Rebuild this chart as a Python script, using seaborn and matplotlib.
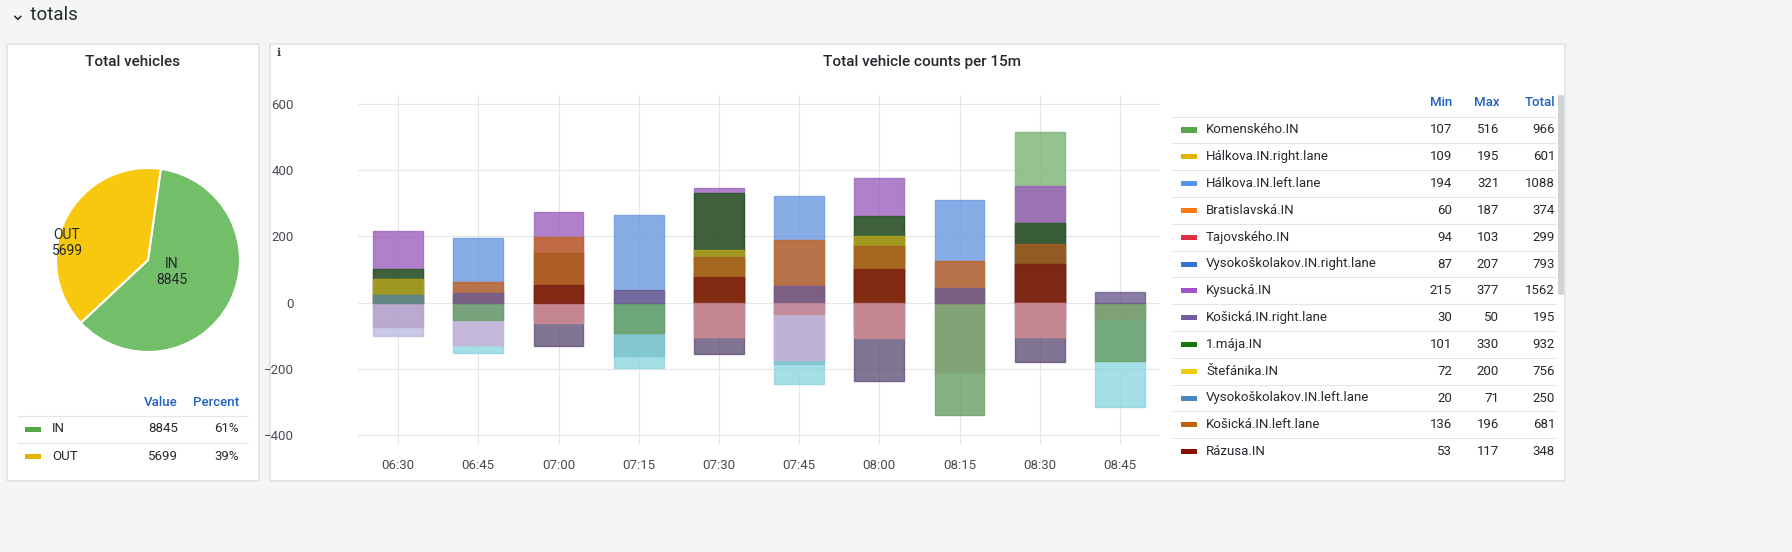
import numpy as np
import pandas as pd
import matplotlib
matplotlib.use("Agg")
import matplotlib.pyplot as plt
from matplotlib.patches import FancyBboxPatch, Rectangle
import seaborn as sns

sns.set_theme(style="white")
plt.rcParams['font.family'] = ['Roboto', 'DejaVu Sans']

nan = np.nan
times = ["06:30", "06:45", "07:00", "07:15", "07:30", "07:45", "08:00", "08:15", "08:30", "08:45"]

# IN series (positive)
komenskeho_in = [nan, nan, nan, nan, nan, nan, nan, nan, 514, nan]
halkova_left = [nan, 196, nan, 264, nan, 321, nan, 311, nan, nan]
bratislavska = [nan, 61, 198, nan, nan, 188, nan, 126, nan, nan]
kysucka = [217, nan, 274, nan, 345, nan, 376, nan, 352, nan]
kosicka_right = [nan, 30, nan, 39, nan, 51, nan, 43, nan, 33]
maja = [101, nan, nan, nan, 332, nan, 263, nan, 241, nan]
stefanika = [72, nan, nan, nan, 159, nan, 200, nan, nan, nan]
vysoko_left = [22, nan, nan, nan, nan, nan, nan, nan, nan, nan]
kosicka_left = [nan, nan, 151, nan, 137, nan, 171, nan, 177, nan]
razusa = [nan, nan, 53, nan, 76, nan, 103, nan, 117, nan]
# OUT series (negative)
out_lav1 = [-73, nan, nan, nan, nan, nan, nan, nan, nan, nan]
out_lav2 = [-101, nan, nan, nan, nan, nan, nan, nan, nan, nan]
out_green1 = [nan, -51, nan, -93, nan, nan, nan, -340, nan, -177]
out_green2 = [nan, nan, nan, nan, nan, nan, nan, -210, nan, -50]
out_orchid = [nan, -128, nan, nan, nan, -174, nan, nan, nan, nan]
out_cyan1 = [nan, -151, nan, -198, nan, -247, nan, nan, nan, -316]
out_cyan2 = [nan, nan, nan, -162, nan, -185, nan, nan, nan, nan]
out_pink1 = [nan, nan, -62, nan, -104, nan, -108, nan, -105, nan]
out_pink2 = [nan, nan, -55, nan, -55, -33, -70, nan, -55, nan]
out_dpurple = [nan, nan, -130, nan, -156, nan, -238, nan, -180, nan]

series = {
    "Komenského.IN": (komenskeho_in, "#73BF69"),
    "Hálkova.IN.left.lane": (halkova_left, "#5794F2"),
    "Bratislavská.IN": (bratislavska, "#E0600A"),
    "Kysucká.IN": (kysucka, "#A352CC"),
    "Košická.IN.right.lane": (kosicka_right, "#6A5498"),
    "1.mája.IN": (maja, "#19620E"),
    "Štefánika.IN": (stefanika, "#D4B800"),
    "Vysokoškolakov.IN.left.lane": (vysoko_left, "#4A86A8"),
    "Košická.IN.left.lane": (kosicka_left, "#BF5A08"),
    "Rázusa.IN": (razusa, "#8A0E00"),
    "Lavender.OUT": (out_lav1, "#B79CD0"),
    "Lavender2.OUT": (out_lav2, "#B8B4E8"),
    "Komenského.OUT": (out_green1, "#5FA85A"),
    "Komenského2.OUT": (out_green2, "#7EA86A"),
    "Kysucká.OUT": (out_orchid, "#D0A8E0"),
    "Cyan.OUT": (out_cyan1, "#80E0F0"),
    "Cyan2.OUT": (out_cyan2, "#70CCD8"),
    "Pink.OUT": (out_pink1, "#E08088"),
    "Pink2.OUT": (out_pink2, "#D07C88"),
    "Košická.OUT": (out_dpurple, "#5E4B82"),
}

rows = []
for name, (vals, col) in series.items():
    for t, v in zip(times, vals):
        if not np.isnan(v):
            rows.append((name, t, v))
df = pd.DataFrame(rows, columns=["series", "time", "value"])
df["rank"] = df.groupby("time")["value"].transform(lambda s: s.abs().rank(ascending=False, method="first"))
palette = {k: c for k, (v, c) in series.items()}

W, H = 1792, 552
fig = plt.figure(figsize=(W / 100, H / 100), dpi=100)
fig.patch.set_facecolor("#F4F5F5")

def fx(x): return x / W
def fy(y): return 1 - y / H

for (x0, y0, x1, y1) in [(7, 44, 259, 481), (270, 44, 1565, 481)]:
    fig.patches.append(FancyBboxPatch((fx(x0), fy(y1)), fx(x1 - x0), (y1 - y0) / H,
                                      boxstyle="round,pad=0,rounding_size=0.002",
                                      transform=fig.transFigure, facecolor="white",
                                      edgecolor="#DCDEE0", linewidth=1, zorder=-5))

fig.text(fx(10), fy(15), "⌄ totals", fontsize=13.5, color="#24292E", va="center")
fig.text(fx(133), fy(62), "Total vehicles", fontsize=11, color="#24292E", ha="center", va="center", weight="medium")
fig.text(fx(922), fy(62), "Total vehicle counts per 15m", fontsize=11, color="#24292E", ha="center", va="center", weight="medium")
fig.text(fx(279), fy(53), "ℹ", fontsize=8, color="#444", ha="center", va="center")

# Bar chart
ax = fig.add_axes([fx(358), fy(445), fx(1160 - 358), (445 - 95) / H])
ax.patch.set_alpha(0)
for r in sorted(df["rank"].unique()):
    sub = df[df["rank"] == r]
    sns.barplot(data=sub, x="time", y="value", hue="series", palette=palette, order=times,
                dodge=False, legend=False, width=0.62, alpha=0.8, ax=ax,
                edgecolor=None, linewidth=0, zorder=3)
for p in ax.patches:
    p.set_edgecolor(p.get_facecolor()[:3] + (0.9,))
    p.set_linewidth(1)
ax.set_ylim(-430, 627)
ax.set_xlim(-0.5, len(times) - 0.5)
ax.set_yticks([-400, -200, 0, 200, 400, 600])
ax.grid(True, color="#E6E6E6", linewidth=0.8, zorder=0)
ax.set_axisbelow(True)
for s in ax.spines.values():
    s.set_visible(False)
ax.set_xlabel("")
ax.set_ylabel("")
ax.tick_params(axis="both", length=0, labelsize=9.5, colors="#464C54")
ax.tick_params(axis="y", pad=46)
ax.tick_params(axis="x", pad=10)

# Right legend table
leg_names = ["Komenského.IN", "Hálkova.IN.right.lane", "Hálkova.IN.left.lane", "Bratislavská.IN",
             "Tajovského.IN", "Vysokoškolakov.IN.right.lane", "Kysucká.IN", "Košická.IN.right.lane",
             "1.mája.IN", "Štefánika.IN", "Vysokoškolakov.IN.left.lane", "Košická.IN.left.lane", "Rázusa.IN"]
leg_colors = ["#56A64B", "#E0B400", "#5794F2", "#FF780A", "#E02F44", "#3274D9", "#A352CC",
              "#705DA0", "#19730E", "#F2CC0C", "#4A86C0", "#C4620C", "#8A0E00"]
leg_min = [107, 109, 194, 60, 94, 87, 215, 30, 101, 72, 20, 136, 53]
leg_max = [516, 195, 321, 187, 103, 207, 377, 50, 330, 200, 71, 196, 117]
leg_total = [966, 601, 1088, 374, 299, 793, 1562, 195, 932, 756, 250, 681, 348]

blue = "#1F60C4"
for lbl, x in [("Min", 1452), ("Max", 1499), ("Total", 1555)]:
    fig.text(fx(x), fy(103), lbl, color=blue, fontsize=9.5, ha="right", va="center", weight="medium")
for i, n in enumerate(leg_names):
    y = 130 + i * 26.8
    fig.patches.append(Rectangle((fx(1181), fy(y + 2.5)), fx(16), 5 / H, transform=fig.transFigure,
                                 facecolor=leg_colors[i], edgecolor="none"))
    fig.text(fx(1206), fy(y), n, fontsize=9.5, color="#24292E", va="center")
    fig.text(fx(1452), fy(y), str(leg_min[i]), fontsize=9.5, color="#24292E", va="center", ha="right")
    fig.text(fx(1499), fy(y), str(leg_max[i]), fontsize=9.5, color="#24292E", va="center", ha="right")
    fig.text(fx(1555), fy(y), str(leg_total[i]), fontsize=9.5, color="#24292E", va="center", ha="right")
    fig.lines.append(plt.Line2D([fx(1172), fx(1556)], [fy(y - 13.4)] * 2, transform=fig.transFigure,
                                color="#E4E5E6", linewidth=0.8))
fig.patches.append(FancyBboxPatch((fx(1558), fy(295)), fx(6), 200 / H, boxstyle="round,pad=0,rounding_size=0.002",
                                  transform=fig.transFigure, facecolor="#D0D2D4", edgecolor="none"))

# Pie
pie_labels = ["IN", "OUT"]
pie_values = [8845, 5699]
pie_percent = ["61%", "39%"]
pie_colors = ["#73BF69", "#F8C80E"]
pax = fig.add_axes([fx(33), fy(375), fx(230), 230 / H])
pax.pie(pie_values, colors=pie_colors, startangle=82, counterclock=False,
        wedgeprops=dict(edgecolor="white", linewidth=1.5))
pax.set_aspect("equal")
fig.text(fx(172), fy(272), "IN\n8845", fontsize=10, color="#24292E", ha="center", va="center", linespacing=1.2, zorder=10)
fig.text(fx(67), fy(243), "OUT\n5699", fontsize=10, color="#24292E", ha="center", va="center", linespacing=1.2, zorder=10)

fig.text(fx(178), fy(403), "Value", color=blue, fontsize=9.5, ha="right", va="center", weight="medium")
fig.text(fx(239), fy(403), "Percent", color=blue, fontsize=9.5, ha="right", va="center", weight="medium")
for i, (l, v, p, c) in enumerate(zip(pie_labels, pie_values, pie_percent, ["#56A64B", "#E0B400"])):
    y = 429 + i * 27
    fig.lines.append(plt.Line2D([fx(18), fx(248)], [fy(y - 13.5)] * 2, transform=fig.transFigure,
                                color="#E4E5E6", linewidth=0.8))
    fig.patches.append(Rectangle((fx(25), fy(y + 2.5)), fx(16), 5 / H, transform=fig.transFigure,
                                 facecolor=c, edgecolor="none"))
    fig.text(fx(52), fy(y), l, fontsize=9.5, color="#24292E", va="center")
    fig.text(fx(178), fy(y), str(v), fontsize=9.5, color="#24292E", va="center", ha="right")
    fig.text(fx(239), fy(y), p, fontsize=9.5, color="#24292E", va="center", ha="right")

fig.savefig("out.png", dpi=100, facecolor=fig.get_facecolor())
